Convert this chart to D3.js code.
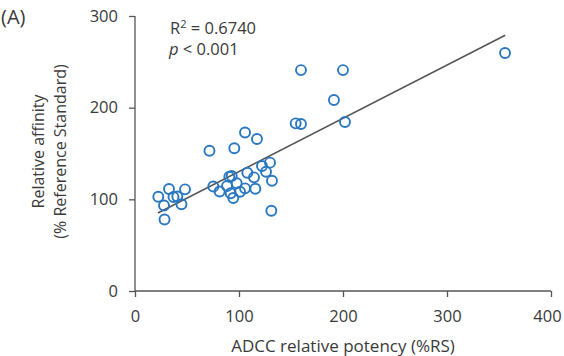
<!DOCTYPE html>
<html>
<head>
<meta charset="utf-8">
<style>
  body { margin: 0; background: #fff; }
  svg text { font-family: "Open Sans", Lato, sans-serif; fill: #3a3a3a; }
</style>
</head>
<body>
<div id="chart"></div>
<script src="https://cdn.jsdelivr.net/npm/d3@7"></script>
<script>
// ADCC relative potency (%RS) vs relative affinity (% reference standard)
const potency = [22.4, 32.7, 27.9, 28.4, 37.0, 40.7, 48.1, 44.7, 71.6, 95.5,
                 105.8, 117.3, 75.3, 81.4, 88.5, 90.7, 93.0, 97.8, 92.0, 94.5,
                 101.0, 105.8, 108.0, 114.4, 115.7, 122.1, 129.8, 126.0, 131.7, 131.1,
                 154.5, 159.6, 159.6, 200.0, 191.3, 201.9, 355.8];
const affinity = [102.9, 111.3, 93.3, 78.0, 102.5, 103.1, 110.9, 94.6, 153.0, 155.7,
                  172.9, 165.8, 114.0, 108.5, 114.5, 124.7, 125.5, 117.5, 106.6, 101.5,
                  108.3, 112.0, 129.0, 124.0, 111.6, 136.4, 140.0, 130.1, 120.3, 87.6,
                  182.9, 182.2, 241.0, 241.0, 208.4, 184.4, 259.6];

// fitted line, as drawn (endpoints)
const fitX = [22, 356];
const fitY = [85, 279];

const xTicks = [0, 100, 200, 300, 400];
const yTicks = [0, 100, 200, 300];

const W = 564, H = 356;
const margin = { left: 135, right: 13, top: 16, bottom: 65 };

const svg = d3.select("#chart").append("svg")
    .attr("width", W)
    .attr("height", H);

const x = d3.scaleLinear().domain([0, 400]).range([margin.left, W - margin.right]);
const y = d3.scaleLinear().domain([0, 300]).range([H - margin.bottom, margin.top]);

// axes
const xAxis = svg.append("g")
    .attr("transform", `translate(0,${y(0)})`)
    .call(d3.axisBottom(x).tickValues(xTicks).tickSize(6).tickPadding(13));
const yAxis = svg.append("g")
    .attr("transform", `translate(${x(0)},0)`)
    .call(d3.axisLeft(y).tickValues(yTicks).tickSize(6).tickPadding(11));

[xAxis, yAxis].forEach(g => {
  g.select(".domain").attr("stroke", "#555").attr("stroke-width", 1.3);
  g.selectAll(".tick line").attr("stroke", "#555").attr("stroke-width", 1.3);
  g.selectAll(".tick text")
    .style("font-family", "'Open Sans', Lato, sans-serif")
    .style("font-size", "16.5px")
    .attr("fill", "#3a3a3a");
});
// keep the last label inside the page
xAxis.selectAll(".tick text").filter(d => d === 400).attr("dx", -4);
// remove tick caps drawn by the domain path
xAxis.select(".domain").attr("d", `M${x(0)},0H${x(400)}`);
yAxis.select(".domain").attr("d", `M0,${y(0)}V${y(300)}`);

// regression line
svg.append("line")
    .attr("x1", x(fitX[0])).attr("y1", y(fitY[0]))
    .attr("x2", x(fitX[1])).attr("y2", y(fitY[1]))
    .attr("stroke", "#555")
    .attr("stroke-width", 1.6);

// points
svg.append("g")
  .selectAll("circle")
  .data(potency.map((p, i) => ({ p, a: affinity[i] })))
  .enter()
  .append("circle")
    .attr("cx", d => x(d.p))
    .attr("cy", d => y(d.a))
    .attr("r", 5)
    .attr("fill", "none")
    .attr("stroke", "#2a78c2")
    .attr("stroke-width", 1.9);

// axis titles
svg.append("text")
    .attr("x", x(200))
    .attr("y", 352)
    .attr("text-anchor", "middle")
    .style("font-size", "17px")
    .text("ADCC relative potency (%RS)");

const yt = svg.append("text")
    .attr("transform", `translate(0,${y(150) - 2}) rotate(-90)`)
    .attr("text-anchor", "middle")
    .style("font-size", "16px");
yt.append("tspan").attr("x", 0).attr("y", 44).text("Relative affinity");
yt.append("tspan").attr("x", 0).attr("y", 66).text("(% Reference Standard)");

// panel label
svg.append("text")
    .attr("x", 1)
    .attr("y", 24)
    .style("font-size", "20px")
    .text("(A)");

// statistics
const r2 = svg.append("text").attr("x", 170).attr("y", 34).style("font-size", "16.5px");
r2.append("tspan").text("R");
r2.append("tspan").attr("dy", -6).style("font-size", "11px").text("2");
r2.append("tspan").attr("dy", 6).text(" = 0.6740");

const pv = svg.append("text").attr("x", 169).attr("y", 55).style("font-size", "16.5px");
pv.append("tspan").style("font-style", "italic").text("p");
pv.append("tspan").text(" < 0.001");
</script>
</body>
</html>
